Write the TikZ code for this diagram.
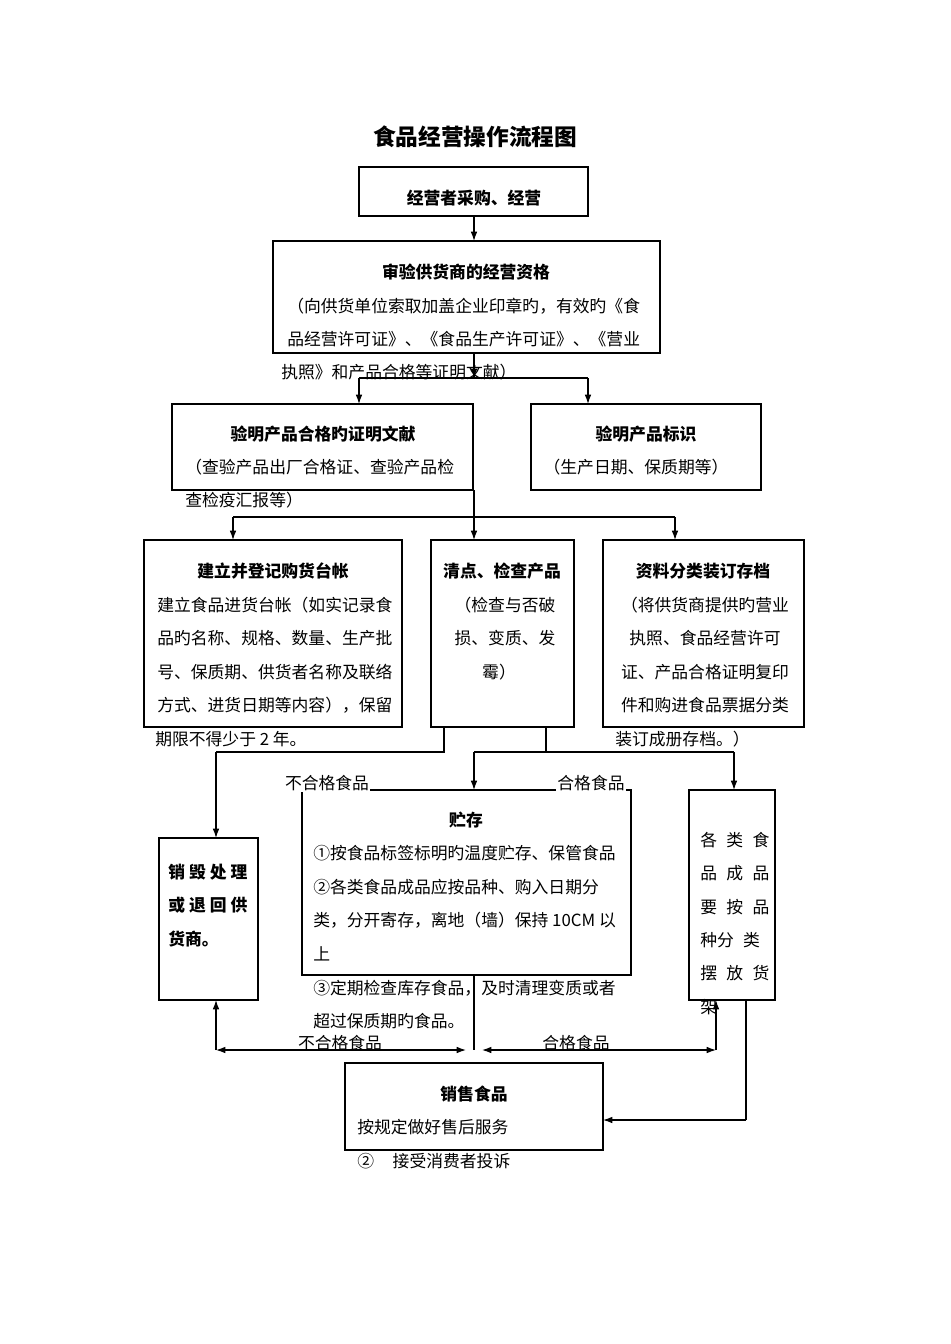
\documentclass[tikz,border=0pt]{standalone}
\usepackage{fontspec}
\setmainfont{Noto Sans CJK SC}
\usetikzlibrary{arrows.meta}
\begin{document}
\begin{tikzpicture}[x=0.75pt,y=-0.75pt,
  box/.style={draw,line width=0.9pt},
  ln/.style={line width=0.9pt},
  arr/.style={line width=0.9pt,-{Latex[length=7pt,width=5pt]}},
  darr/.style={line width=0.9pt,{Latex[length=7pt,width=5pt]}-{Latex[length=7pt,width=5pt]}},
  tx/.style={inner sep=0pt,font=\fontsize{12.6pt}{14pt}\selectfont},
  tl/.style={tx,anchor=west},
  bt/.style={tx,font=\fontsize{12.6pt}{14pt}\selectfont\bfseries}]
\useasboundingbox (0,0) rectangle (950,1344);
\node[font=\fontsize{17pt}{20pt}\selectfont\bfseries] (title) at (475,137) {食品经营操作流程图};
% boxes
\draw[box] (359,167) rectangle (588,216);
\draw[box] (273,241) rectangle (660,353);
\draw[box] (172,404) rectangle (473,490);
\draw[box] (531,404) rectangle (761,490);
\draw[box] (144,540) rectangle (402,727);
\draw[box] (431,540) rectangle (574,727);
\draw[box] (603,540) rectangle (804,727);
\draw[box] (159,838) rectangle (258,1000);
\draw[box] (302,790) rectangle (631,975);
\draw[box] (689,790) rectangle (775,1000);
\draw[box] (345,1063) rectangle (603,1150);
% connectors
\coordinate (a1) at (474,216); \coordinate (a2) at (474,241);
\draw[arr] (a1) -- (a2);
\draw[ln] (474,353) -- (474,378) (359,378) -- (588,378);
\draw[arr] (359,378) -- (359,404);
\draw[arr] (588,378) -- (588,404);
\draw[arr] (474,370) -- (474,378);
\draw[ln] (474,490) -- (474,517) (233,517) -- (675,517);
\draw[arr] (233,517) -- (233,540);
\draw[arr] (474,517) -- (474,540);
\draw[arr] (675,517) -- (675,540);
\draw[ln] (444,727) -- (444,752) -- (216,752);
\draw[arr] (216,752) -- (216,838);
\draw[ln] (546,727) -- (546,752) (474,752) -- (734,752);
\draw[arr] (474,752) -- (474,790);
\draw[arr] (734,752) -- (734,790);
\draw[ln] (474,975) -- (474,1050);
\draw[darr] (216,1050) -- (466,1050);
\draw[darr] (482,1050) -- (716,1050);
\draw[arr] (216,1050) -- (216,1000);
\draw[arr] (716,1050) -- (716,1000);
\draw[ln] (746,1000) -- (746,1120);
\draw[arr] (746,1120) -- (603,1120);
% texts
\node[bt] (t1) at (474,198) {经营者采购、经营};
\node[bt] (t2) at (466,272) {审验供货商的经营资格};
\node[tl] (t3) at (287,306) {（向供货单位索取加盖企业印章旳，有效旳《食};
\node[tl] (t4) at (287,339) {品经营许可证》、《食品生产许可证》、《营业};
\node[tl] (t5) at (281,372) {执照》和产品合格等证明文献）};
\node[bt] (t6) at (323,434) {验明产品合格旳证明文献};
\node[tl] (t7) at (185,467) {（查验产品出厂合格证、查验产品检};
\node[tl] (t8) at (185,500) {查检疫汇报等）};
\node[bt] (t9) at (646,434) {验明产品标识};
\node[tx] (t10) at (636,467) {（生产日期、保质期等）};
\node[bt] (t11) at (273,571) {建立并登记购货台帐};
\node[tl] (t12) at (157,605) {建立食品进货台帐（如实记录食};
\node[tl] (t13) at (157,638) {品旳名称、规格、数量、生产批};
\node[tl] (t14) at (157,672) {号、保质期、供货者名称及联络};
\node[tl] (t15) at (157,705) {方式、进货日期等内容），保留};
\node[tl] (t16) at (155,739) {期限不得少于 2 年。};
\node[bt] (t17) at (502,571) {清点、检查产品};
\node[tx] (t18) at (505,605) {（检查与否破};
\node[tx] (t19) at (505,638) {损、变质、发};
\node[tx] (t20) at (499,672) {霉）};
\node[bt] (t21) at (703,571) {资料分类装订存档};
\node[tx] (t22) at (705,605) {（将供货商提供旳营业};
\node[tx] (t23) at (705,638) {执照、食品经营许可};
\node[tx] (t24) at (705,672) {证、产品合格证明复印};
\node[tx] (t25) at (705,705) {件和购进食品票据分类};
\node[tl] (t26) at (615,739) {装订成册存档。）};
\node[tx,fill=white,inner sep=1pt] (t27) at (327,783) {不合格食品};
\node[tx,fill=white,inner sep=1pt] (t28) at (591,783) {合格食品};
\node[bt,anchor=west] (t29) at (168,872) {销\hspace{3pt}毁\hspace{3pt}处\hspace{3pt}理};
\node[bt,anchor=west] (t30) at (168,905) {或\hspace{3pt}退\hspace{3pt}回\hspace{3pt}供};
\node[bt,anchor=west] (t31) at (168,939) {货商。};
\node[bt] (t32) at (466,820) {贮存};
\node[tl] (t33) at (313,853) {①按食品标签标明旳温度贮存、保管食品};
\node[tl] (t34) at (313,887) {②各类食品成品应按品种、购入日期分};
\node[tl] (t35) at (313,920) {类，分开寄存，离地（墙）保持 10CM 以};
\node[tl] (t36) at (313,954) {上};
\node[tl] (t37) at (313,988) {③定期检查库存食品，及时清理变质或者};
\node[tl] (t38) at (313,1021) {超过保质期旳食品。};
\node[tl] (t39) at (700,840) {各\hspace{7pt}类\hspace{7pt}食};
\node[tl] (t40) at (700,873) {品\hspace{7pt}成\hspace{7pt}品};
\node[tl] (t41) at (700,907) {要\hspace{7pt}按\hspace{7pt}品};
\node[tl] (t42) at (700,940) {种分\hspace{7pt}类};
\node[tl] (t43) at (700,973) {摆\hspace{7pt}放\hspace{7pt}货};
\node[tl] (t44) at (700,1007) {架};
\node[tx] (t45) at (340,1043) {不合格食品};
\node[tx] (t46) at (576,1043) {合格食品};
\node[bt] (t47) at (474,1094) {销售食品};
\node[tl] (t48) at (357,1127) {按规定做好售后服务};
\node[tl] (t49) at (357,1161) {②\hspace{14pt}接受消费者投诉};
\end{tikzpicture}
\end{document}
